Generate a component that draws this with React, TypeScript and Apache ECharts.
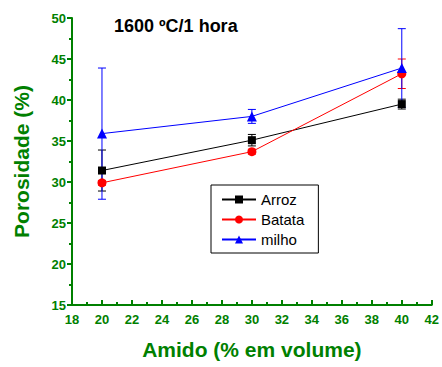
import React, { useEffect, useRef } from "react";
import * as echarts from "echarts";

const xValues = [20, 30, 40];
const arroz = [31.4, 35.1, 39.5];
const arrozErr = [2.5, 0.7, 0.6];
const batata = [29.9, 33.7, 43.2];
const batataErr = [0.3, 0.3, 1.8];
const milho = [35.9, 38.0, 43.9];
const milhoErr = [8.0, 0.85, 4.8];
const titleText = "1600 ºC/1 hora";
const GREEN = "#008000";
const FONT = "Liberation Sans, Arial, sans-serif";

function errSeries(vals: number[], errs: number[], color: string, z: number) {
  return {
    type: "custom",
    z,
    silent: true,
    data: xValues.map((x, i) => [x, vals[i] - errs[i], vals[i] + errs[i]]),
    renderItem: (params: any, api: any) => {
      const x = api.value(0);
      const lo = api.coord([x, api.value(1)]);
      const hi = api.coord([x, api.value(2)]);
      const w = 4;
      const style = { stroke: color, lineWidth: 1 };
      return {
        type: "group",
        children: [
          { type: "line", shape: { x1: lo[0], y1: lo[1], x2: hi[0], y2: hi[1] }, style },
          { type: "line", shape: { x1: lo[0] - w, y1: lo[1], x2: lo[0] + w, y2: lo[1] }, style },
          { type: "line", shape: { x1: hi[0] - w, y1: hi[1], x2: hi[0] + w, y2: hi[1] }, style },
        ],
      };
    },
  };
}

export default function App() {
  const ref = useRef<HTMLDivElement>(null);
  useEffect(() => {
    const chart = echarts.init(ref.current!, null, { renderer: "svg" });
    const lineSeries = (name: string, vals: number[], color: string, symbol: string, size: number, z: number) => ({
      name,
      type: "line",
      z,
      data: xValues.map((x, i) => [x, vals[i]]),
      symbol,
      symbolSize: size,
      itemStyle: { color },
      lineStyle: { color, width: 1 },
    });
    chart.setOption({
      animation: false,
      textStyle: { fontFamily: FONT },
      grid: { left: 72, right: 7, top: 18, bottom: 62 },
      title: {
        text: titleText,
        left: 109,
        top: 12,
        textStyle: { fontSize: 18, fontWeight: "bold", color: "#000", fontFamily: FONT },
      },
      legend: {
        orient: "vertical",
        left: 211,
        top: 185,
        width: 105,
        borderColor: "#000",
        borderWidth: 1,
        padding: [7, 14, 6, 10],
        itemGap: 5,
        itemWidth: 34,
        itemHeight: 10,
        textStyle: { fontSize: 15, color: "#000", fontFamily: FONT },
        data: ["Arroz", "Batata", "milho"],
      },
      xAxis: {
        type: "value",
        min: 18,
        max: 42,
        interval: 2,
        name: "Amido (% em volume)",
        nameLocation: "middle",
        nameGap: 34,
        nameTextStyle: { fontSize: 21, fontWeight: "bold", color: GREEN, fontFamily: FONT },
        axisLine: { lineStyle: { color: GREEN, width: 2 } },
        axisTick: { inside: true, length: 5, lineStyle: { color: GREEN, width: 2 } },
        minorTick: { show: true, splitNumber: 2, length: 3, lineStyle: { color: GREEN, width: 2 } },
        axisLabel: { fontSize: 13, fontWeight: "bold", color: GREEN, margin: 8, fontFamily: FONT },
        splitLine: { show: false },
      },
      yAxis: {
        type: "value",
        min: 15,
        max: 50,
        interval: 5,
        name: "Porosidade (%)",
        nameLocation: "middle",
        nameGap: 40,
        nameTextStyle: { fontSize: 21, fontWeight: "bold", color: GREEN, fontFamily: FONT },
        axisLine: { show: true, lineStyle: { color: GREEN, width: 2 } },
        axisTick: { show: true, inside: false, length: 5, lineStyle: { color: GREEN, width: 2 } },
        minorTick: { show: true, splitNumber: 2, length: 3, lineStyle: { color: GREEN, width: 2 } },
        axisLabel: { fontSize: 13, fontWeight: "bold", color: GREEN, margin: 6, fontFamily: FONT },
        splitLine: { show: false },
      },
      series: [
        errSeries(arroz, arrozErr, "#000", 2),
        errSeries(batata, batataErr, "#ff0000", 3),
        errSeries(milho, milhoErr, "#0000ff", 4),
        lineSeries("Arroz", arroz, "#000", "rect", 8, 5),
        lineSeries("Batata", batata, "#ff0000", "circle", 9, 6),
        lineSeries("milho", milho, "#0000ff", "triangle", 10, 7),
      ],
    });
    return () => chart.dispose();
  }, []);
  return <div ref={ref} style={{ width: 442, height: 367, position: "absolute", left: 0, top: 0 }} />;
}
